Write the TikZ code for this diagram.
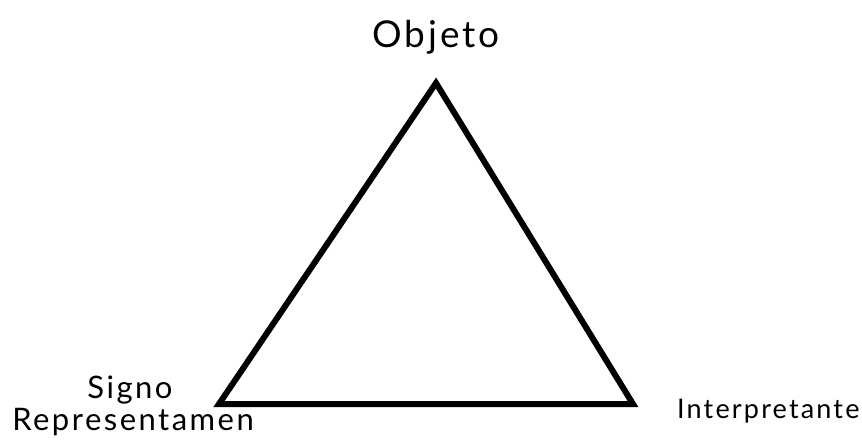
\documentclass[tikz,border=0pt]{standalone}
\usepackage{fontspec}
\setmainfont{Lato}[LetterSpace=8]
\begin{document}
\begin{tikzpicture}[x=1pt,y=-1pt,
  lbl/.style={inner sep=0pt, font=\fontsize{31}{36}\selectfont}]
\useasboundingbox (0,0) rectangle (862,447);
\coordinate (O) at (436,83);
\coordinate (S) at (219,404);
\coordinate (I) at (633,404);
\draw[line width=6pt, line join=miter] (O) -- (I) -- (S) -- cycle;
\node[lbl, anchor=base, font=\fontsize{37}{42}\selectfont] (to) at (436,47) {Objeto};
\node[lbl, anchor=base] (ts) at (130,398) {Signo};
\node[lbl, anchor=base] (tr) at (133,430) {Representamen};
\node[lbl, anchor=base west, font=\fontsize{27}{32}\selectfont] (ti) at (677,418) {Interpretante};
\end{tikzpicture}
\end{document}
